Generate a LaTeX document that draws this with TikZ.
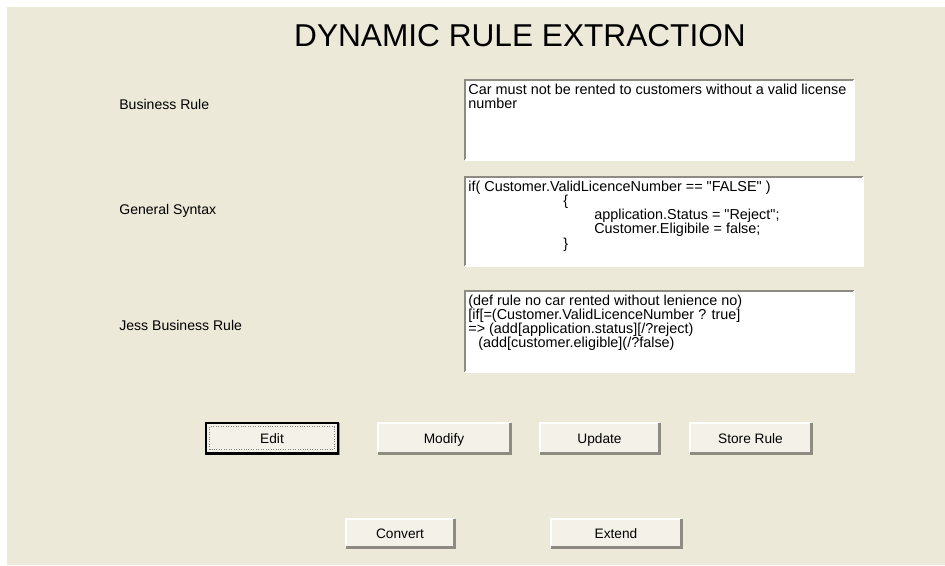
\documentclass[tikz,border=0pt]{standalone}
\usepackage{fontspec}
\setmainfont{Liberation Sans}
\definecolor{panel}{HTML}{ECE9D8}
\definecolor{btnface}{HTML}{F3F1E8}
\definecolor{bevel}{HTML}{8E8C82}
\newcommand{\dq}{\textquotedbl}

\begin{document}
\begin{tikzpicture}[x=0.02cm, y=-0.02cm,
  lbl/.style={anchor=west, inner sep=0pt, font=\fontsize{8}{9.6}\selectfont},
  field/.style={fill=white, anchor=north west, inner sep=0pt},
  fieldtext/.style={anchor=north west, align=left, inner sep=0pt, font=\fontsize{8.2}{8}\selectfont},
  btn/.style={fill=btnface, inner sep=0pt, minimum height=0.6cm, text height=1.6ex, text depth=0.45ex,
    font=\fontsize{7.8}{9}\selectfont}]

  \useasboundingbox (0,0) rectangle (945,565);
  \fill[panel] (7,7) rectangle (945,565);

  \node[font=\fontsize{18}{20}\selectfont] (title) at (520,36) {DYNAMIC RULE EXTRACTION};

  % labels on the left
  \node[lbl] (lbr) at (119,104) {Business Rule};
  \node[lbl] (lgs) at (119,211) {General Syntax};
  \node[lbl] (ljr) at (119,325) {Jess Business Rule};

  % text fields (px sizes: 388x79, 397x88, 388x80)
  \node[field, minimum width=7.76cm, minimum height=1.58cm] (f1) at (465,80) {};
  \node[field, minimum width=7.94cm, minimum height=1.76cm] (f2) at (465,177) {};
  \node[field, minimum width=7.76cm, minimum height=1.60cm] (f3) at (465,291) {};
  \foreach \f in {f1,f2,f3} {
    \draw[bevel, line width=1.4pt] (\f.south west) -- (\f.north west) -- (\f.north east);
    \draw[white, line width=1pt] (\f.north east) -- (\f.south east) -- (\f.south west);
  }

  \node[fieldtext] (t1) at ([shift={(3,4)}]f1.north west)
    {Car must not be rented to customers without a valid license\\number};
  \node[fieldtext] (t2) at ([shift={(3,4)}]f2.north west)
    {if( Customer.ValidLicenceNumber == \dq FALSE\dq{} )\\
     \hspace*{1.9cm}\{\\
     \hspace*{2.52cm}application.Status = \dq Reject\dq;\\
     \hspace*{2.52cm}Customer.Eligibile = false;\\
     \hspace*{1.9cm}\}};
  \node[fieldtext] (t3) at ([shift={(3,4)}]f3.north west)
    {(def rule no car rented without lenience no)\\
     {[}if[=(Customer.ValidLicenceNumber ? true]\\
     => (add[application.status][/?reject)\\
     \hspace*{0.2cm}(add[customer.eligible](/?false)};

  % buttons
  \node[btn, minimum width=2.64cm] (edit)    at (272,438) {Edit};
  \node[btn, minimum width=2.64cm] (modify)  at (444,438) {Modify};
  \node[btn, minimum width=2.38cm] (update)  at (599.5,438) {Update};
  \node[btn, minimum width=2.42cm] (store)   at (750.5,438) {Store Rule};
  \node[btn, minimum width=2.16cm, minimum height=0.56cm] (convert) at (400,533) {Convert};
  \node[btn, minimum width=2.60cm, minimum height=0.56cm] (extend)  at (616,533) {Extend};
  \foreach \b in {edit,modify,update,store,convert,extend} {
    \draw[white, line width=1pt] (\b.south west) -- (\b.north west) -- (\b.north east);
    \draw[bevel, line width=1.4pt] (\b.north east) -- (\b.south east) -- (\b.south west);
  }
  % focused button
  \draw[black, line width=1.3pt] (edit.south west) rectangle (edit.north east);
  \draw[gray, densely dotted] ([shift={(4,4)}]edit.north west) rectangle ([shift={(-4,-4)}]edit.south east);
\end{tikzpicture}
\end{document}
